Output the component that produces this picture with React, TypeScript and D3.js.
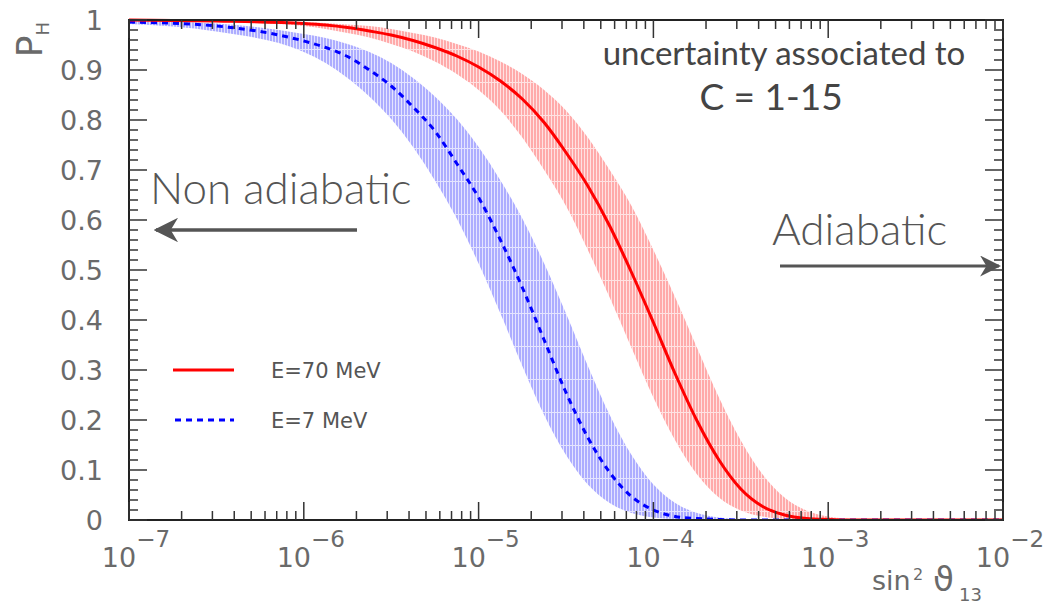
import React from 'react'
import * as d3 from 'd3'

const logS = [-7, -6.5, -6, -5.875, -5.75, -5.625, -5.5, -5.375, -5.25, -5.125, -5, -4.875, -4.75, -4.625, -4.5, -4.375, -4.25, -4.125, -4, -3.875, -3.75, -3.625, -3.5, -3.375, -3.25, -3.125, -3, -2.875, -2.75, -2.5, -2]

// E = 70 MeV
const pRed = [1.0, 0.998, 0.993, 0.99, 0.985, 0.978, 0.97, 0.959, 0.945, 0.928, 0.906, 0.878, 0.842, 0.795, 0.735, 0.668, 0.588, 0.495, 0.395, 0.292, 0.198, 0.12, 0.062, 0.027, 0.01, 0.003, 0.001, 0, 0, 0, 0]
const pRedHigh = [1.0, 0.999, 0.996, 0.994, 0.991, 0.988, 0.982, 0.974, 0.965, 0.952, 0.937, 0.917, 0.892, 0.86, 0.819, 0.765, 0.7, 0.628, 0.54, 0.445, 0.344, 0.245, 0.159, 0.091, 0.045, 0.019, 0.007, 0.002, 0, 0, 0]
const pRedLow = [0.999, 0.996, 0.988, 0.982, 0.974, 0.965, 0.952, 0.937, 0.917, 0.892, 0.86, 0.819, 0.765, 0.7, 0.628, 0.54, 0.445, 0.344, 0.245, 0.159, 0.091, 0.045, 0.019, 0.007, 0.002, 0, 0, 0, 0, 0, 0]

// E = 7 MeV
const pBlue = [0.996, 0.988, 0.958, 0.945, 0.927, 0.9, 0.868, 0.826, 0.778, 0.713, 0.645, 0.56, 0.465, 0.36, 0.255, 0.165, 0.095, 0.047, 0.02, 0.007, 0.003, 0.001, 0, 0, 0, 0, 0, 0, 0, 0, 0]
const pBlueHigh = [0.998, 0.993, 0.972, 0.964, 0.952, 0.936, 0.914, 0.884, 0.847, 0.802, 0.746, 0.679, 0.603, 0.513, 0.413, 0.308, 0.21, 0.13, 0.071, 0.034, 0.014, 0.005, 0.002, 0, 0, 0, 0, 0, 0, 0, 0]
const pBlueLow = [0.992, 0.977, 0.936, 0.914, 0.884, 0.847, 0.802, 0.746, 0.679, 0.603, 0.513, 0.413, 0.308, 0.21, 0.13, 0.071, 0.034, 0.014, 0.005, 0.002, 0, 0, 0, 0, 0, 0, 0, 0, 0, 0, 0]

const decades = [-7, -6, -5, -4, -3, -2]
const yLabels = ['0', '0.1', '0.2', '0.3', '0.4', '0.5', '0.6', '0.7', '0.8', '0.9', '1']
const legendNames = ['E=70 MeV', 'E=7 MeV']

const W = 1044
const H = 604
const left = 129, right = 1003, top = 20, bottom = 520
const labelFont = '"DejaVu Sans", sans-serif'
const noteFont = 'Lato, "Open Sans", sans-serif'

export default function App() {
  const x = d3.scaleLog().domain([1e-7, 1e-2]).range([left, right])
  const y = d3.scaleLinear().domain([0, 1]).range([bottom, top])

  const rows = logS.map((e, i) => ({ s: Math.pow(10, e), i }))

  const line = (vals: number[]) => d3.line<{ s: number; i: number }>()
    .x(d => x(d.s))
    .y(d => y(vals[d.i]))
    .curve(d3.curveMonotoneX)(rows) || ''

  const band = (lo: number[], hi: number[]) => d3.area<{ s: number; i: number }>()
    .x(d => x(d.s))
    .y0(d => y(lo[d.i]))
    .y1(d => y(hi[d.i]))
    .curve(d3.curveMonotoneX)(rows) || ''

  const xTicks = x.ticks()
  const yTicks = d3.range(0, 51).map(k => k / 50)

  return (
    <svg width={W} height={H} style={{ position: 'absolute', left: 0, top: 0, background: '#fff' }}>
      <defs>
        <pattern id="hatchRed" width={3} height={33} patternUnits="userSpaceOnUse">
          <rect width={3} height={33} fill="#ffaaaa" />
          <rect x={2} width={1} height={33} fill="#ffe2e2" />
          <rect x={0} y={16} width={2} height={1} fill="#ffe2e2" />
        </pattern>
        <pattern id="hatchBlue" width={3} height={33} patternUnits="userSpaceOnUse">
          <rect width={3} height={33} fill="#adadff" />
          <rect x={2} width={1} height={33} fill="#e4e4ff" />
          <rect x={0} y={16} width={2} height={1} fill="#e4e4ff" />
        </pattern>
        <clipPath id="plotClip">
          <rect x={left} y={top - 2} width={right - left} height={bottom - top + 2} />
        </clipPath>
        <marker id="head" viewBox="0 0 10 10" refX={9} refY={5} markerWidth={7} markerHeight={7} orient="auto-start-reverse">
          <path d="M0,0 L10,5 L0,10 L3,5 Z" fill="#555" />
        </marker>
      </defs>

      <g clipPath="url(#plotClip)">
        <path d={band(pBlueLow, pBlueHigh)} fill="url(#hatchBlue)" />
        <path d={band(pRedLow, pRedHigh)} fill="url(#hatchRed)" />
        <path d={line(pBlue)} fill="none" stroke="#0000ff" strokeWidth={3} strokeDasharray="6,5" />
        <path d={line(pRed)} fill="none" stroke="#ff0000" strokeWidth={3} />
      </g>

      {/* frame and ticks */}
      <rect x={left} y={top} width={right - left} height={bottom - top} fill="none" stroke="#222" strokeWidth={2} />
      <g stroke="#333" strokeWidth={1.5}>
        {yTicks.map((t, k) => {
          const len = k % 5 === 0 ? 18 : 9
          return (
            <g key={'y' + k}>
              <line x1={left} x2={left + len} y1={y(t)} y2={y(t)} />
              <line x1={right} x2={right - len} y1={y(t)} y2={y(t)} />
            </g>
          )
        })}
        {xTicks.map((t, k) => {
          const major = Math.abs(Math.log10(t) - Math.round(Math.log10(t))) < 1e-6
          const len = major ? 18 : 9
          return (
            <g key={'x' + k}>
              <line x1={x(t)} x2={x(t)} y1={bottom} y2={bottom - len} />
              <line x1={x(t)} x2={x(t)} y1={top} y2={top + len} />
            </g>
          )
        })}
      </g>

      {/* axis labels */}
      <g fontFamily={labelFont} fill="#6a6a6a">
        {yLabels.map((lab, k) => (
          <text key={lab} x={103} y={y(k / 10) + 10} fontSize={27} textAnchor="end">{lab}</text>
        ))}
        {decades.map(e => (
          <text key={e} x={x(Math.pow(10, e)) + 7} y={567} fontSize={27} textAnchor="middle">
            10<tspan fontSize={23} dy={-20}>{'\u2212' + Math.abs(e)}</tspan>
          </text>
        ))}
        <text x={872} y={590} fontSize={27}>sin</text>
        <text x={913} y={580} fontSize={16}>2</text>
        <text x={933} y={591} fontSize={34}>{'\u03d1'}</text>
        <text x={959} y={601} fontSize={18}>13</text>
        <text transform="translate(42,22) rotate(-90)" fontSize={36} textAnchor="end">
          P<tspan fontSize={18} dy={7}>H</tspan>
        </text>
      </g>

      {/* legend */}
      <line x1={173} x2={234} y1={370} y2={370} stroke="#ff0000" strokeWidth={3} />
      <line x1={175} x2={234} y1={420} y2={420} stroke="#0000ff" strokeWidth={3} strokeDasharray="6,5" />
      <g fontFamily={labelFont} fill="#555" fontSize={21}>
        <text x={271} y={378}>{legendNames[0]}</text>
        <text x={271} y={428}>{legendNames[1]}</text>
      </g>

      {/* annotations */}
      <g fontFamily={noteFont} fill="#444">
        <text x={784} y={65} fontSize={33} textAnchor="middle">uncertainty associated to</text>
        <text x={771} y={110} fontSize={37} textAnchor="middle">C = 1-15</text>
      </g>
      <g fontFamily={noteFont} fill="#555" fontWeight={300}>
        <text x={150} y={204} fontSize={44}>Non adiabatic</text>
        <text x={772} y={245} fontSize={44}>Adiabatic</text>
      </g>
      <line x1={357} x2={156} y1={230} y2={230} stroke="#555" strokeWidth={3.5} markerEnd="url(#head)" />
      <line x1={780} x2={999} y1={266} y2={266} stroke="#555" strokeWidth={3} markerEnd="url(#head)" />
    </svg>
  )
}
